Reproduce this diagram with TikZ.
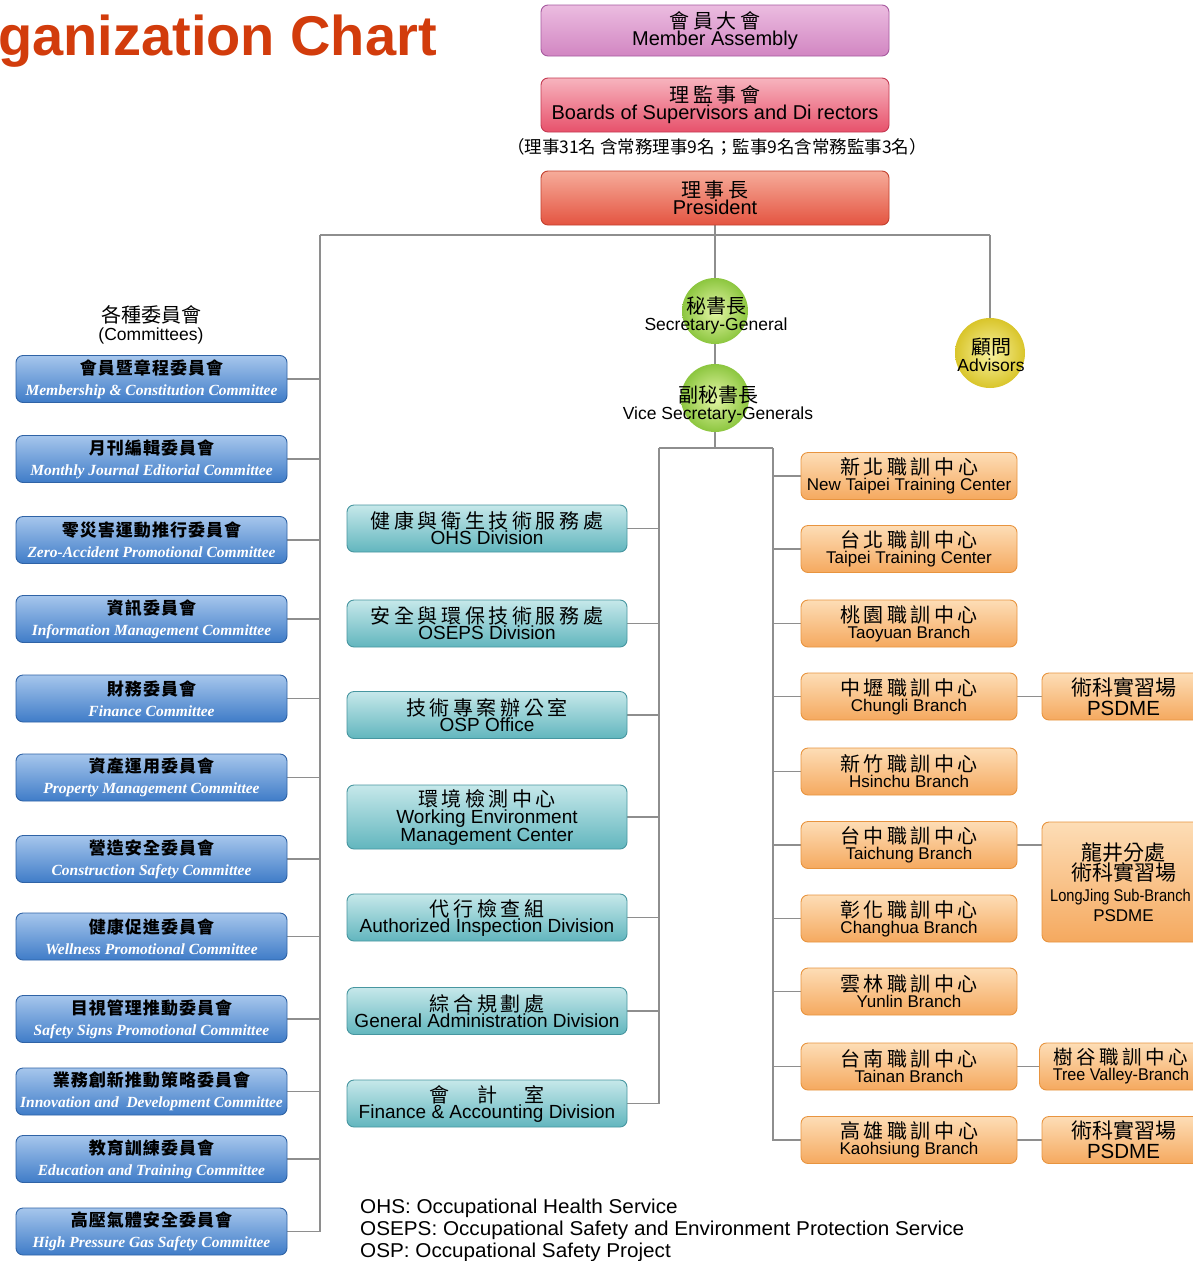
\documentclass[tikz,border=0pt]{standalone}
\usepackage{fontspec}
\setmainfont{Liberation Sans}
\newfontfamily\cjk{Noto Sans CJK TC}
\newfontfamily\cjkls{Noto Sans CJK TC}[LetterSpace=18]
\newfontfamily\cjkcm{Noto Sans CJK TC}[LetterSpace=6]
\newfontfamily\cmser{Liberation Serif}
\usetikzlibrary{backgrounds}

\definecolor{lineg}{HTML}{8E8E8E}
\definecolor{titlered}{HTML}{D23C0C}
\definecolor{maT}{HTML}{EBBCE0}\definecolor{maB}{HTML}{D286C2}\definecolor{maL}{HTML}{A65A9F}
\definecolor{bdT}{HTML}{F7B4BE}\definecolor{bdB}{HTML}{E7516B}\definecolor{bdL}{HTML}{C43A52}
\definecolor{prT}{HTML}{F6AC9A}\definecolor{prB}{HTML}{E45441}\definecolor{prL}{HTML}{C2412F}
\definecolor{cmT}{HTML}{A6C6EC}\definecolor{cmB}{HTML}{3F7CC8}\definecolor{cmL}{HTML}{2F63A6}
\definecolor{tlT}{HTML}{C6E8EA}\definecolor{tlB}{HTML}{62B6BE}\definecolor{tlL}{HTML}{4796A0}
\definecolor{orT}{HTML}{FDDDB6}\definecolor{orB}{HTML}{F5A95F}\definecolor{orL}{HTML}{E8943F}
\definecolor{grI}{HTML}{E4F6A6}\definecolor{grO}{HTML}{8CC63F}
\definecolor{ylI}{HTML}{F8F2A0}\definecolor{ylO}{HTML}{D9C52A}

\newcommand\lz{\lineskiplimit=-100pt\lineskip=0pt}
\newcommand\zls[1]{{\cjkls\fontsize{20}{17}\selectfont #1}}
\newcommand\zcm[1]{{\cjkcm\bfseries\fontsize{17}{21}\selectfont #1}}
\newcommand\ecm[1]{{\cmser\bfseries\itshape\color{white}#1}}
\newcommand\wid[1]{\scalebox{1.035}[1]{#1}}

\begin{document}
\begin{tikzpicture}[x=1pt,y=-1pt,
  conn/.style={draw=lineg, line width=1.2pt},
  rbox/.style={rectangle, rounded corners=7pt, inner sep=0pt, align=center, line width=0.9pt},
  mab/.style={rbox, minimum width=348pt, minimum height=51pt, draw=maL, top color=maT, middle color=maB, bottom color=maB, font=\fontsize{20}{17}\selectfont\lz},
  bdb/.style={rbox, minimum width=348pt, minimum height=54pt, draw=bdL, top color=bdT, middle color=bdB, bottom color=bdB, font=\fontsize{20}{17}\selectfont\lz},
  prb/.style={rbox, minimum width=348pt, minimum height=54pt, draw=prL, top color=prT, middle color=prB, bottom color=prB, font=\fontsize{20}{17}\selectfont\lz},
  cmb/.style={rbox, minimum width=271pt, minimum height=47pt, draw=cmL, top color=cmT, middle color=cmB, bottom color=cmB, font=\fontsize{15.5}{21}\selectfont\lz},
  tlb/.style={rbox, minimum width=280pt, minimum height=47pt, draw=tlL, top color=tlT, middle color=tlB, bottom color=tlB, font=\fontsize{19}{16}\selectfont\lz},
  orb/.style={rbox, minimum width=216pt, minimum height=47pt, draw=orL, top color=orT, middle color=orB, bottom color=orB, font=\fontsize{17}{16}\selectfont\lz},
  frb/.style={rbox, minimum width=163pt, minimum height=47pt, draw=orL, top color=orT, middle color=orB, bottom color=orB},
  gcirc/.style={circle, inner sep=0pt, inner color=grI, outer color=grO},
  ycirc/.style={circle, inner sep=0pt, inner color=ylI, outer color=ylO},
  ctext/.style={inner sep=0pt, align=center, font=\fontsize{17.5}{17}\selectfont\lz}
]
\useasboundingbox (0,0) rectangle (1193,1261);
\clip (0,0) rectangle (1193,1261);

% title
\node[anchor=base east, text=titlered, font=\bfseries\fontsize{56}{60}\selectfont, inner sep=0pt] (title) at (437,55) {ganization Chart};

% top boxes
\node[mab] (ma) at (715,30.5) {\zls{會員大會}\\Member Assembly};
\node[bdb] (bd) at (715,105) {\zls{理監事會}\\Boards of Supervisors and Di rectors};
\node[inner sep=0pt, font=\cjk\fontsize{17.5}{17}\selectfont] (note) at (717,147) {（理事31名 含常務理事9名；監事9名含常務監事3名）};
\node[prb] (pr) at (715,198) {\zls{理事長}\\President};

% circles
\node[gcirc, minimum size=66pt] (sg) at (715,311) {};
\node[gcirc, minimum size=68pt] (vsg) at (715,398) {};
\node[ycirc, minimum size=70pt] (adv) at (990,353) {};
\node[ctext] (sgt) at (716,315) {{\cjk\fontsize{20}{17}\selectfont 秘書長}\\Secretary-General};
\node[ctext] (vsgt) at (718,404) {{\cjk\fontsize{20}{17}\selectfont 副秘書長}\\Vice Secretary-Generals};
\node[ctext] (advt) at (991,355) {{\cjk\fontsize{20}{17}\selectfont 顧問}\\Advisors};

% committees
\node[ctext, font=\fontsize{17.5}{18}\selectfont\lz] (cmh) at (151,325) {{\cjk\fontsize{20}{18}\selectfont 各種委員會}\\(Committees)};
\node[cmb] (c1) at (151.5,379) {\zcm{會員暨章程委員會}\\\ecm{Membership \& Constitution Committee}};
\node[cmb] (c2) at (151.5,459) {\zcm{月刊編輯委員會}\\\ecm{Monthly Journal Editorial Committee}};
\node[cmb] (c3) at (151.5,540) {\zcm{零災害運動推行委員會}\\\ecm{Zero-Accident Promotional Committee}};
\node[cmb] (c4) at (151.5,619) {\zcm{資訊委員會}\\\ecm{Information Management Committee}};
\node[cmb] (c5) at (151.5,698.5) {\zcm{財務委員會}\\\ecm{Finance Committee}};
\node[cmb] (c6) at (151.5,777.5) {\zcm{資產運用委員會}\\\ecm{Property Management Committee}};
\node[cmb] (c7) at (151.5,859) {\zcm{營造安全委員會}\\\ecm{Construction Safety Committee}};
\node[cmb] (c8) at (151.5,936.5) {\zcm{健康促進委員會}\\\ecm{Wellness Promotional Committee}};
\node[cmb] (c9) at (151.5,1019) {\zcm{目視管理推動委員會}\\\ecm{Safety Signs Promotional Committee}};
\node[cmb] (c10) at (151.5,1091.5) {\zcm{業務創新推動策略委員會}\\\ecm{Innovation and\ \ Development Committee}};
\node[cmb] (c11) at (151.5,1159) {\zcm{教育訓練委員會}\\\ecm{Education and Training Committee}};
\node[cmb] (c12) at (151.5,1231.5) {\zcm{高壓氣體安全委員會}\\\ecm{High Pressure Gas Safety Committee}};

% middle (teal) column
\node[tlb] (t1) at (487,528.5) {\zls{健康與衛生技術服務處}\\OHS Division};
\node[tlb] (t2) at (487,623.5) {\zls{安全與環保技術服務處}\\OSEPS Division};
\node[tlb] (t3) at (487,715) {\zls{技術專案辦公室}\\OSP Office};
\node[tlb, minimum height=64pt, font=\fontsize{19}{17.5}\selectfont\lz] (t4) at (487,817) {\zls{環境檢測中心}\\Working Environment\\Management Center};
\node[tlb] (t5) at (487,917.5) {\zls{代行檢查組}\\Authorized Inspection Division};
\node[tlb] (t6) at (487,1011) {\zls{綜合規劃處}\\General Administration Division};
\node[tlb] (t7) at (487,1103.5) {\zls{會　計　室}\\Finance \& Accounting Division};

% right (orange) column
\node[orb] (o1) at (909,476) {\zls{新北職訓中心}\\New Taipei Training Center};
\node[orb] (o2) at (909,549) {\zls{台北職訓中心}\\Taipei Training Center};
\node[orb] (o3) at (909,623.5) {\zls{桃園職訓中心}\\Taoyuan Branch};
\node[orb] (o4) at (909,696.5) {\zls{中壢職訓中心}\\Chungli Branch};
\node[orb] (o5) at (909,771.5) {\zls{新竹職訓中心}\\Hsinchu Branch};
\node[orb] (o6) at (909,845) {\zls{台中職訓中心}\\Taichung Branch};
\node[orb] (o7) at (909,918.5) {\zls{彰化職訓中心}\\Changhua Branch};
\node[orb] (o8) at (909,991.5) {\zls{雲林職訓中心}\\Yunlin Branch};
\node[orb] (o9) at (909,1066.5) {\zls{台南職訓中心}\\Tainan Branch};
\node[orb] (o10) at (909,1140) {\zls{高雄職訓中心}\\Kaohsiung Branch};

% far right boxes
\node[frb, font=\fontsize{20.5}{20}\selectfont\lz] (f1) at (1123.5,696.5) {{\cjk\fontsize{21}{20}\selectfont 術科實習場}\\PSDME};
\node[frb, minimum height=120pt, font=\fontsize{17}{20.5}\selectfont\lz] (f2) at (1123.5,882) {{\cjk\fontsize{21}{20.5}\selectfont 龍井分處}\\{\cjk\fontsize{21}{20.5}\selectfont 術科實習場}\\\hspace*{-6pt}\scalebox{0.86}[1]{LongJing Sub-Branch}\\PSDME};
\node[frb, font=\fontsize{17}{16}\selectfont\lz] (f3) at (1121,1066.5) {{\cjkls\fontsize{19.5}{17}\selectfont 樹谷職訓中心}\\\scalebox{0.95}[1]{Tree Valley-Branch}};
\node[frb, font=\fontsize{20.5}{20}\selectfont\lz] (f4) at (1123.5,1140) {{\cjk\fontsize{21}{20}\selectfont 術科實習場}\\PSDME};

% legend
\node[anchor=north west, inner sep=0pt, align=left, font=\fontsize{20}{22}\selectfont] (leg) at (360,1199) {\wid{OHS: Occupational Health Service}\\\wid{OSEPS: Occupational Safety and Environment Protection Service}\\\wid{OSP: Occupational Safety Project}};

% junction points
\coordinate (jt) at (715,235);
\coordinate (jl) at (320,235);
\coordinate (jr) at (990,235);
\coordinate (jm) at (715,448);
\coordinate (jml) at (659,448);
\coordinate (jmr) at (773,448);

\begin{pgfonlayer}{background}
\fill[white] (0,0) rectangle (1193,1261);
\draw[conn] (pr.south) -- (jt);
\draw[conn] (jl) -- (jr);
\draw[conn] (jr) -- (adv.north);
\draw[conn] (jt) -- (sg.north);
\draw[conn] (sg.south) -- (vsg.north);
\draw[conn] (vsg.south) -- (jm);
\draw[conn] (jml) -- (jmr);
\draw[conn] (jl) |- (c12.east);
\foreach \i in {1,...,11} \draw[conn] (c\i.east) -- (c\i.east -| jl);
\draw[conn] (jml) |- (t7.east);
\foreach \i in {1,...,6} \draw[conn] (t\i.east) -- (t\i.east -| jml);
\draw[conn] (jmr) |- (o10.west);
\foreach \i in {1,...,9} \draw[conn] (o\i.west) -- (o\i.west -| jmr);
\draw[conn] (o4.east) -- (f1.west);
\draw[conn] (o6.east) -- (o6.east -| f2.west);
\draw[conn] (o9.east) -- (f3.west);
\draw[conn] (o10.east) -- (f4.west);
\end{pgfonlayer}
\end{tikzpicture}
\end{document}
